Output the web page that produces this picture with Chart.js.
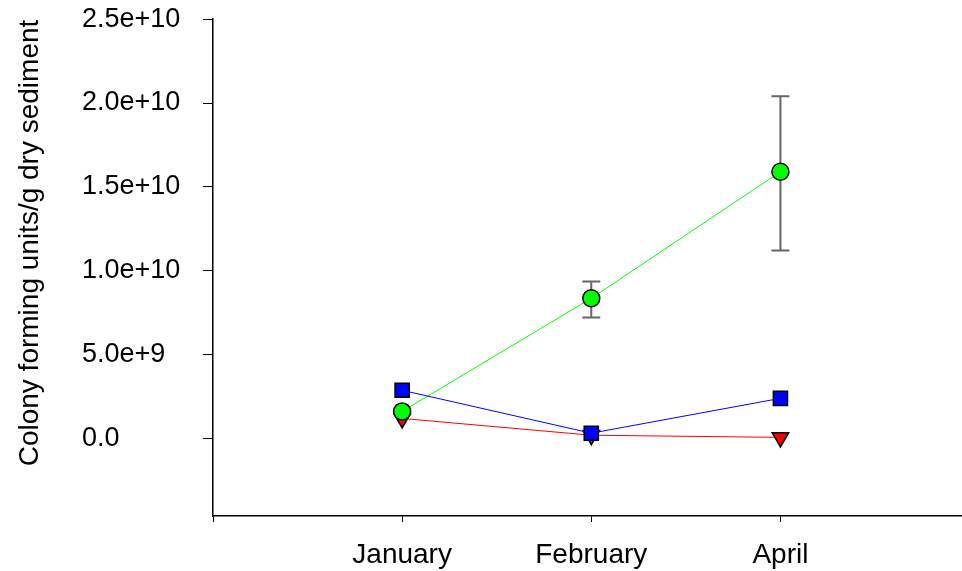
<!DOCTYPE html>
<html>
<head>
<meta charset="utf-8">
<script src="https://cdn.jsdelivr.net/npm/chart.js@4"></script>
<style>
  html, body { margin: 0; padding: 0; background: #fff; overflow: hidden; }
</style>
</head>
<body>
<canvas id="cfu" width="962" height="571"></canvas>
<script>
// months on the x axis (positions 0,1,2)
const months = ["January", "February", "April"];
const monthPos = [0, 1, 2];

// colony counts
const greenVals = [1.6e9, 8.35e9, 1.59e10];
const greenErrLow = [1.6e9, 7.2e9, 1.12e10];
const greenErrHigh = [1.6e9, 9.35e9, 2.04e10];
const blueVals = [2.86e9, 0.3e9, 2.38e9];
const redVals = [1.18e9, 0.18e9, 0.05e9];

const yTicks = [0, 5e9, 1e10, 1.5e10, 2e10, 2.5e10];
const yTitle = "Colony forming units/g dry sediment";

function pts(vals) {
    return vals.map(function (v, i) { return {x: monthPos[i], y: v}; });
}

// error bars for the green series, drawn behind the markers
const errorBars = {
    id: 'errorBars',
    beforeDatasetsDraw(chart) {
        const ctx = chart.ctx;
        const xs = chart.scales.x, ys = chart.scales.y;
        ctx.save();
        ctx.strokeStyle = '#666666';
        ctx.lineWidth = 2;
        for (let i in monthPos) {
            if (greenErrHigh[i] === greenErrLow[i]) continue;
            const px = xs.getPixelForValue(monthPos[i]);
            const top = ys.getPixelForValue(greenErrHigh[i]);
            const bot = ys.getPixelForValue(greenErrLow[i]);
            ctx.beginPath();
            ctx.moveTo(px, top); ctx.lineTo(px, bot);
            ctx.moveTo(px - 9, top); ctx.lineTo(px + 9, top);
            ctx.moveTo(px - 9, bot); ctx.lineTo(px + 9, bot);
            ctx.stroke();
        }
        ctx.restore();
    }
};

// rotated y title in the left padding
const yTitlePlugin = {
    id: 'yTitle',
    afterDraw(chart) {
        const ctx = chart.ctx;
        ctx.save();
        ctx.translate(30, 243);
        ctx.rotate(-Math.PI / 2);
        ctx.font = '28px "Liberation Sans", Arial, sans-serif';
        ctx.fillStyle = '#000';
        ctx.textAlign = 'center';
        ctx.textBaseline = 'middle';
        ctx.fillText(yTitle, 0, 0);
        ctx.restore();
    }
};

Chart.defaults.font.family = '"Liberation Sans", Arial, sans-serif';
Chart.defaults.color = '#000';

new Chart(document.getElementById('cfu').getContext('2d'), {
    type: 'line',
    data: {
        datasets: [{
            label: 'blue',
            data: pts(blueVals),
            borderColor: '#0000ff',
            borderWidth: 1,
            backgroundColor: '#0000ff',
            pointStyle: 'rect',
            pointRadius: 10,
            pointBorderColor: '#000',
            pointBorderWidth: 1.5
        }, {
            label: 'green',
            data: pts(greenVals),
            borderColor: '#00ff00',
            borderWidth: 1,
            backgroundColor: '#00ff00',
            pointStyle: 'circle',
            pointRadius: 8.5,
            pointBorderColor: '#000',
            pointBorderWidth: 1.5
        }, {
            label: 'red',
            data: pts(redVals),
            borderColor: '#ff0000',
            borderWidth: 1,
            backgroundColor: '#ff0000',
            pointStyle: 'triangle',
            pointRotation: 180,
            pointRadius: 9.5,
            pointBorderColor: '#000',
            pointBorderWidth: 1.5
        }]
    },
    options: {
        responsive: false,
        animation: false,
        layout: { autoPadding: false, padding: { left: 82, top: 18, right: 0, bottom: 0 } },
        plugins: { legend: { display: false }, tooltip: { enabled: false } },
        scales: {
            x: {
                type: 'linear',
                min: -1,
                max: 2.96,
                afterBuildTicks: function (s) {
                    s.ticks = [-1, 0, 1, 2].map(function (v) { return {value: v}; });
                },
                afterFit: function (s) {
                    s.height = 55;
                    s.paddingLeft = 0;
                    s.paddingRight = 0;
                },
                grid: { drawOnChartArea: false, drawTicks: true, tickLength: 6, color: '#000' },
                border: { color: '#000', width: 1.5 },
                ticks: {
                    padding: 16,
                    maxRotation: 0,
                    autoSkip: false,
                    font: { size: 28 },
                    callback: function (v) { return v >= 0 ? months[v] : ''; }
                }
            },
            y: {
                min: -4.64e9,
                max: 2.5e10,
                afterBuildTicks: function (s) {
                    s.ticks = yTicks.map(function (v) { return {value: v}; });
                },
                afterFit: function (s) { s.width = 131; },
                grid: { drawOnChartArea: false, drawTicks: true, tickLength: 10, color: '#000' },
                border: { color: '#000', width: 1.5 },
                ticks: {
                    crossAlign: 'far',
                    font: { size: 27 },
                    callback: function (v) { return v === 0 ? '0.0' : v.toExponential(1); }
                }
            }
        }
    },
    plugins: [errorBars, yTitlePlugin]
});
</script>
</body>
</html>
